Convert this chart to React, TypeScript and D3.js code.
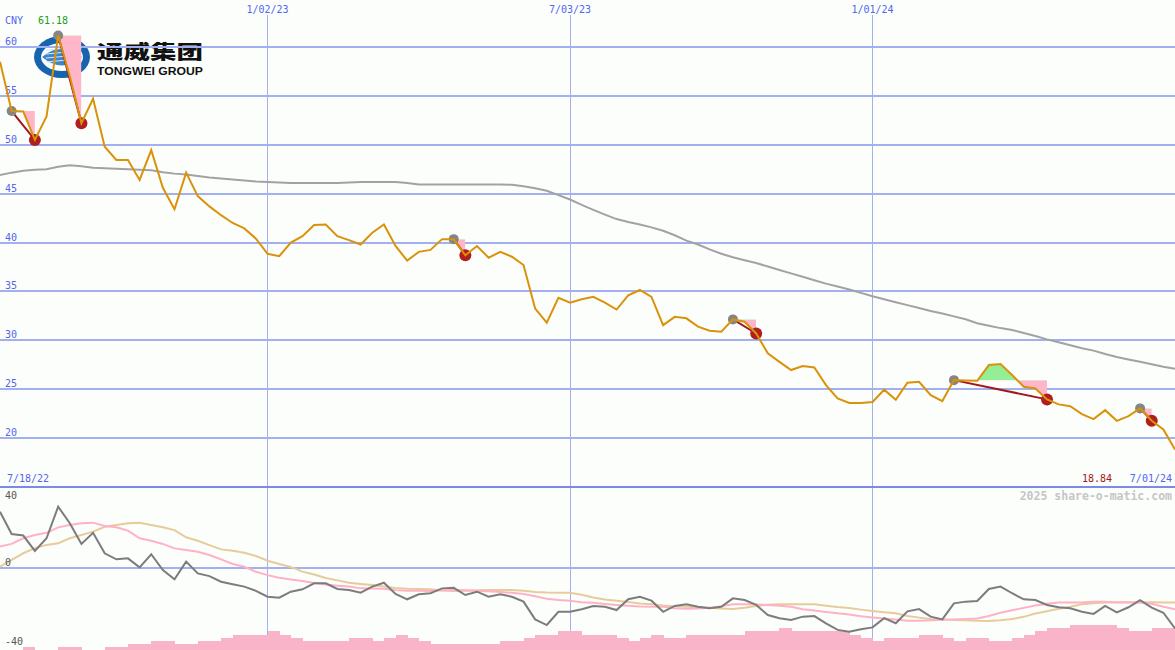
import * as d3 from 'd3';

// weekly closes, CNY (Mondays 7/25/22 .. 7/01/24)
const weeks = d3.timeMonday.range(new Date(2022, 6, 25), new Date(2024, 6, 2));

const closes = [
  58.5, 53.45, 53.4, 50.5, 52.9, 61.18, 57, 52.2, 54.7, 49.8,
  48.45, 48.45, 46.4, 49.45, 45.6, 43.4, 47.15, 44.75, 43.7, 42.8,
  42.0, 41.45, 40.4, 38.85, 38.6, 40.0, 40.65, 41.8, 41.85, 40.65,
  40.25, 39.8, 41.0, 41.85, 39.65, 38.15, 39.05, 39.25, 40.35, 40.35,
  38.7, 39.65, 38.45, 39.05, 38.55, 37.7, 33.25, 31.8, 34.35, 33.85,
  34.2, 34.45, 33.85, 33.15, 34.6, 35.15, 34.45, 31.55, 32.4, 32.25,
  31.4, 30.98, 30.88, 32.14, 31.9, 30.7, 28.67, 27.8, 26.96, 27.37,
  27.23, 25.42, 24.06, 23.6, 23.6, 23.7, 24.95, 23.92, 25.66, 25.76,
  24.4, 23.79, 25.93, 25.9, 25.86, 27.47, 27.57, 26.45, 25.25, 25.08,
  23.96, 23.45, 23.27, 22.45, 21.94, 22.86, 21.77, 22.25, 23.04, 21.77,
  20.89, 18.84,
];

const movingAvg = [
  46.9, 47.15, 47.35, 47.45, 47.5, 47.75, 47.9, 47.8, 47.65, 47.6,
  47.55, 47.5, 47.45, 47.4, 47.2, 47.05, 46.95, 46.8, 46.65, 46.55,
  46.45, 46.35, 46.25, 46.2, 46.15, 46.1, 46.1, 46.1, 46.1, 46.1,
  46.15, 46.2, 46.2, 46.2, 46.2, 46.1, 45.95, 45.95, 45.95, 45.95,
  45.95, 45.95, 45.95, 45.95, 45.9, 45.75, 45.55, 45.3, 44.85, 44.4,
  43.85, 43.35, 42.85, 42.4, 42.1, 41.85, 41.55, 41.2, 40.75, 40.2,
  39.8, 39.3, 38.85, 38.5, 38.2, 37.9, 37.55, 37.2, 36.85, 36.5,
  36.15, 35.8, 35.5, 35.2, 34.85, 34.5, 34.2, 33.9, 33.6, 33.3,
  33.0, 32.75, 32.45, 32.15, 31.75, 31.5, 31.25, 31.05, 30.75, 30.45,
  30.1, 29.8, 29.5, 29.2, 28.95, 28.6, 28.3, 28.05, 27.8, 27.55,
  27.3, 27.1,
];

// sell signals: [start week index, end week index]
const signals = [[1, 3], [5, 7], [39, 40], [63, 65], [82, 90], [98, 99]];

// lower panel oscillators
const oscFast = [
  28.7, 17.3, 16.5, 8.6, 15.1, 31.3, 22.8, 12.2, 17.9, 7.4,
  4.3, 4.8, 0.2, 6.9, -1.2, -5.9, 3.1, -2.9, -4.3, -7.2,
  -8.5, -9.7, -11.9, -14.9, -15.4, -12.3, -11.1, -8.0, -8.0, -10.9,
  -11.4, -12.8, -9.7, -7.7, -13.5, -16.2, -13.6, -13.1, -10.6, -10.3,
  -14.0, -12.3, -14.9, -13.6, -14.9, -17.4, -26.5, -29.4, -22.6, -22.6,
  -21.3, -19.6, -20.0, -21.7, -16.2, -14.9, -16.9, -22.6, -19.6, -18.8,
  -20.0, -20.8, -20.0, -15.7, -16.6, -19.1, -24.3, -25.9, -26.8, -25.1,
  -24.8, -28.5, -31.9, -32.8, -31.6, -30.6, -25.9, -28.5, -22.4, -21.2,
  -25.1, -26.5, -18.3, -17.4, -17.1, -10.9, -9.7, -13.1, -16.2, -16.6,
  -19.1, -20.3, -20.8, -22.6, -23.7, -19.6, -22.9, -20.3, -16.6, -20.5,
  -23.1, -31.1,
];

const oscMid = [
  10.8, 12.2, 15.1, 16.8, 17.9, 20.7, 21.9, 22.8, 23.1, 21.4,
  20.7, 19.0, 15.1, 13.8, 12.2, 9.9, 9.1, 8.2, 6.5, 4.3,
  1.9, 0.5, -2.1, -3.8, -5.1, -6.0, -6.8, -7.8, -8.6, -9.2,
  -9.7, -10.6, -10.7, -10.8, -11.5, -11.8, -11.8, -11.9, -11.6, -11.4,
  -11.6, -11.9, -12.1, -12.4, -12.9, -13.5, -14.6, -15.9, -16.6, -16.9,
  -17.7, -18.0, -18.6, -19.1, -19.5, -19.9, -20.0, -20.0, -20.8, -21.1,
  -20.9, -20.6, -19.7, -18.8, -18.8, -18.9, -19.1, -19.5, -20.0, -21.3,
  -22.0, -22.7, -23.4, -24.0, -24.9, -25.5, -26.0, -26.6, -27.2, -27.2,
  -26.9, -26.7, -26.5, -26.3, -26.0, -24.8, -23.1, -21.8, -20.6, -19.4,
  -18.5, -17.9, -17.9, -17.8, -17.5, -17.4, -17.8, -17.9, -17.9, -18.5,
  -20.0, -21.3,
];

const oscSlow = [
  0.5, 4.0, 7.4, 10.0, 11.7, 12.5, 15.1, 16.8, 18.5, 21.0,
  21.9, 22.8, 23.1, 21.9, 20.7, 19.3, 15.6, 13.8, 11.6, 9.4,
  8.7, 7.7, 6.0, 3.6, 1.9, 0.4, -2.0, -3.5, -5.3, -6.5,
  -7.7, -8.3, -8.9, -9.6, -10.4, -10.8, -10.9, -11.1, -11.7, -12.0,
  -11.8, -11.6, -11.4, -11.4, -11.4, -11.8, -12.4, -12.7, -12.8, -12.8,
  -13.9, -15.3, -16.3, -16.9, -17.6, -18.3, -18.7, -19.4, -19.8, -20.0,
  -20.3, -20.5, -20.9, -21.2, -20.5, -19.6, -19.0, -18.8, -18.8, -18.8,
  -18.8, -19.5, -20.2, -20.7, -21.5, -22.2, -22.9, -23.4, -24.8, -25.6,
  -26.3, -26.5, -26.8, -26.9, -27.2, -27.3, -26.9, -26.3, -25.2, -23.5,
  -22.3, -21.0, -20.0, -18.8, -18.2, -17.8, -17.7, -17.7, -17.7, -17.7,
  -17.8, -17.9,
];

// weekly volume (M shares)
const volume = [
  10, 10, 60, 10, 10, 60, 60, 10, 10, 60,
  60, 120, 120, 180, 180, 120, 120, 180, 180, 240,
  300, 300, 300, 380, 300, 240, 180, 180, 180, 180,
  240, 240, 180, 240, 300, 240, 180, 120, 120, 120,
  120, 120, 120, 180, 180, 240, 300, 300, 380, 380,
  300, 300, 300, 240, 180, 240, 300, 240, 240, 300,
  300, 300, 300, 300, 380, 380, 380, 440, 380, 380,
  380, 380, 380, 300, 240, 180, 240, 240, 240, 300,
  300, 240, 180, 240, 240, 180, 180, 240, 300, 380,
  440, 440, 500, 500, 500, 500, 440, 380, 380, 440,
  440, 440,
];

const priceTicks = [20, 25, 30, 35, 40, 45, 50, 55, 60];
const dateLines = [new Date(2023, 0, 2), new Date(2023, 6, 3), new Date(2024, 0, 1)];
const oscTicks = [
  { v: 40, y: 499 },
  { v: 0, y: 566 },
  { v: -40, y: 645 },
];

const W = 1175;
const H = 650;
const GRID = '#a3b0f0';
const BLUE = '#5266ee';
const MONO = '"DejaVu Sans Mono", monospace';

export default function App() {
  const x = d3.scaleTime().domain([weeks[0], weeks[weeks.length - 1]]).range([0, W]);
  const y = d3.scaleLinear().domain([15, 60]).range([487, 47]);
  const yo = d3.scaleLinear().domain([-40, 40]).range([645.7, 489.7]);
  const yv = d3.scaleLinear().domain([0, 500]).range([H, 625]);
  const fmt = d3.timeFormat('%-m/%d/%y');
  const step = x(weeks[1]) - x(weeks[0]);

  const priceLine = d3.line<number>().x((_, i) => x(weeks[i])).y((d) => y(d));
  const oscLine = d3.line<number>().x((_, i) => x(weeks[i])).y((d) => yo(d));

  return (
    <svg
      width={W}
      height={H}
      style={{ position: 'absolute', left: 0, top: 0, display: 'block', background: '#fcfefc' }}
    >
      <defs>
        {signals.map(([s, e], j) => {
          const lvl = y(closes[s]);
          return (
            <g key={j}>
              <clipPath id={`dn${j}`}>
                <rect x={x(weeks[s])} y={lvl} width={x(weeks[e]) - x(weeks[s])} height={487 - lvl} />
              </clipPath>
              <clipPath id={`up${j}`}>
                <rect x={x(weeks[s])} y={0} width={x(weeks[e]) - x(weeks[s])} height={lvl} />
              </clipPath>
            </g>
          );
        })}
      </defs>

      {/* logo */}
      <g>
        <ellipse cx={62} cy={57} rx={28} ry={21} fill="#1764ae" />
        <ellipse cx={62} cy={57} rx={21} ry={14} fill="#fcfefc" />
        <path d="M42,57 Q62,40 82,57 Q62,74 42,57 Z" fill="#3f86c8" />
        {[50, 54, 58, 62].map((ly) => (
          <line key={ly} x1={46} x2={78} y1={ly} y2={ly - 3} stroke="#d9e8f6" strokeWidth={1} />
        ))}
        <text
          x={97}
          y={59}
          fontFamily='"Noto Sans CJK SC", sans-serif'
          fontWeight={900}
          fontSize={19}
          textLength={106}
          lengthAdjust="spacingAndGlyphs"
          fill="#111"
        >
          通威集团
        </text>
        <text
          x={97}
          y={75}
          fontFamily='"Liberation Sans", Arial, sans-serif'
          fontWeight={700}
          fontSize={11.5}
          textLength={106}
          lengthAdjust="spacingAndGlyphs"
          fill="#111"
        >
          TONGWEI GROUP
        </text>
      </g>

      {/* price grid */}
      {priceTicks.map((t) => (
        <g key={t}>
          <line x1={0} x2={W} y1={y(t)} y2={y(t)} stroke={GRID} strokeWidth={2} shapeRendering="crispEdges" />
          <text x={5} y={y(t) - 2} fontFamily={MONO} fontSize={10} fill={BLUE}>
            {t}
          </text>
        </g>
      ))}

      {/* date lines */}
      {dateLines.map((d) => (
        <g key={+d}>
          <line x1={x(d)} x2={x(d)} y1={15} y2={H} stroke={GRID} strokeWidth={1} shapeRendering="crispEdges" />
          <text x={x(d)} y={13} textAnchor="middle" fontFamily={MONO} fontSize={10} fill={BLUE}>
            {fmt(d)}
          </text>
        </g>
      ))}

      {/* lower panel zero line */}
      <line x1={0} x2={W} y1={yo(0)} y2={yo(0)} stroke={GRID} strokeWidth={2} shapeRendering="crispEdges" />

      {/* panel separator */}
      <line x1={0} x2={W} y1={487} y2={487} stroke="#7b8ae8" strokeWidth={2} shapeRendering="crispEdges" />

      {/* moving average */}
      <path d={priceLine(movingAvg) ?? ''} fill="none" stroke="#a2a2a2" strokeWidth={2} />

      {/* signal shading */}
      {signals.map(([s, e], j) => {
        const lvl = closes[s];
        const seg = d3.range(s, e + 1);
        const area = d3
          .area<number>()
          .x((i) => x(weeks[i]))
          .y0(y(lvl))
          .y1((i) => y(closes[i]));
        return (
          <g key={j}>
            <path d={area(seg) ?? ''} fill="#ffb6c9" clipPath={`url(#dn${j})`} />
            <path d={area(seg) ?? ''} fill="#94ee94" clipPath={`url(#up${j})`} />
          </g>
        );
      })}

      {/* signal connectors and dots */}
      {signals.map(([s, e], j) => (
        <g key={j}>
          <line
            x1={x(weeks[s])}
            y1={y(closes[s])}
            x2={x(weeks[e])}
            y2={y(closes[e])}
            stroke="#a0181c"
            strokeWidth={2}
          />
          <circle cx={x(weeks[s])} cy={y(closes[s])} r={5} fill="#858585" />
          <circle cx={x(weeks[e])} cy={y(closes[e])} r={6} fill="#b01e1e" />
        </g>
      ))}

      {/* price */}
      <path d={priceLine(closes) ?? ''} fill="none" stroke="#d9930a" strokeWidth={2} />

      {/* price labels */}
      <text x={5} y={24} fontFamily={MONO} fontSize={10} fill={BLUE}>
        CNY
      </text>
      <text x={38} y={24} fontFamily={MONO} fontSize={10} fill="#1e9a1e">
        {d3.max(closes)?.toFixed(2)}
      </text>
      <text x={7} y={482} fontFamily={MONO} fontSize={10} fill={BLUE}>
        7/18/22
      </text>
      <text x={1112} y={482} textAnchor="end" fontFamily={MONO} fontSize={10} fill="#a4161a">
        {closes[closes.length - 1].toFixed(2)}
      </text>
      <text x={1172} y={482} textAnchor="end" fontFamily={MONO} fontSize={10} fill={BLUE}>
        {fmt(weeks[weeks.length - 1])}
      </text>
      <text x={1172} y={500} textAnchor="end" fontFamily={MONO} fontWeight={700} fontSize={11.5} fill="#c6c6c6">
        2025 share-o-matic.com
      </text>

      {/* volume */}
      {volume.map((v, i) => (
        <rect
          key={i}
          x={x(weeks[i])}
          y={yv(v)}
          width={step + 0.5}
          height={H - yv(v)}
          fill="#f9b4c9"
          shapeRendering="crispEdges"
        />
      ))}

      {/* oscillators */}
      <path d={oscLine(oscSlow) ?? ''} fill="none" stroke="#e6cc9a" strokeWidth={2} />
      <path d={oscLine(oscMid) ?? ''} fill="none" stroke="#ffb1c6" strokeWidth={2} />
      <path d={oscLine(oscFast) ?? ''} fill="none" stroke="#7c7c7c" strokeWidth={2} />

      {oscTicks.map((t) => (
        <text key={t.v} x={5} y={t.y} fontFamily={MONO} fontSize={10} fill="#555">
          {t.v}
        </text>
      ))}
    </svg>
  );
}
